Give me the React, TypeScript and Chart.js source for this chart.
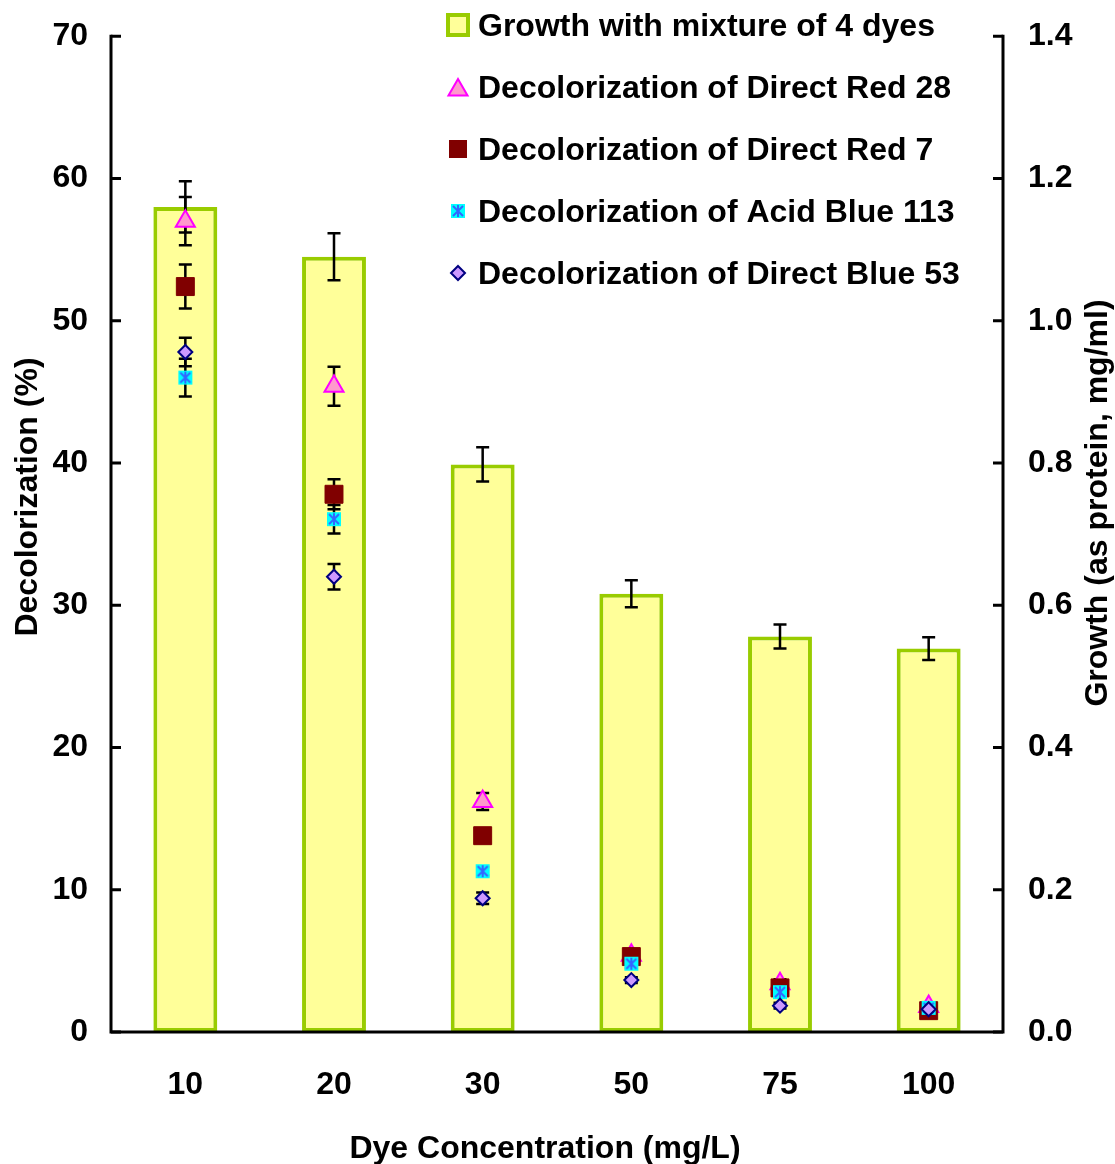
import { useEffect, useRef } from "react";
import { Chart, registerables } from "chart.js";

Chart.register(...registerables);

// Dye concentrations (mg/L)
const concentrations = ["10", "20", "30", "50", "75", "100"];

// Growth with the 4-dye mixture (as protein, mg/ml) and its standard error
const growth = [1.16, 1.09, 0.798, 0.616, 0.556, 0.539];
const growthErr = [0.036, 0.033, 0.024, 0.019, 0.017, 0.016];

// Decolorization (%) of each dye and its standard error
const directRed28 = [57.0, 45.4, 16.2, 5.4, 3.4, 1.8];
const directRed28Err = [1.7, 1.37, 0.6, 0.3, 0.3, 0.2];
const directRed7 = [52.4, 37.8, 13.8, 5.3, 3.1, 1.5];
const directRed7Err = [1.55, 1.05, 0.4, 0.3, 0.2, 0.2];
const acidBlue113 = [46.0, 36.05, 11.3, 4.8, 2.8, 1.7];
const acidBlue113Err = [1.33, 1.0, 0.3, 0.3, 0.2, 0.2];
const directBlue53 = [47.8, 32.0, 9.4, 3.65, 1.85, 1.6];
const directBlue53Err = [1.0, 0.9, 0.4, 0.2, 0.2, 0.2];

// Axis ranges and tick steps
const decolorMax = 70;
const decolorStep = 10;
const growthMax = 1.4;
const growthStep = 0.2;

const seriesLabels = [
  "Growth with mixture of 4 dyes",
  "Decolorization of Direct Red 28",
  "Decolorization of Direct Red 7",
  "Decolorization of Acid Blue 113",
  "Decolorization of Direct Blue 53",
];

const xTitle = "Dye Concentration (mg/L)";
const yTitle = "Decolorization (%)";
const y1Title = "Growth (as protein, mg/ml)";

const FONT = "'Liberation Sans', Arial, Helvetica, sans-serif";

function makeStarMarker(): HTMLCanvasElement {
  const c = document.createElement("canvas");
  c.width = 16;
  c.height = 16;
  const g = c.getContext("2d")!;
  g.fillStyle = "#00FFFF";
  g.fillRect(1, 1, 14, 14);
  g.strokeStyle = "#3366FF";
  g.lineWidth = 2;
  g.beginPath();
  g.moveTo(3, 3);
  g.lineTo(13, 13);
  g.moveTo(13, 3);
  g.lineTo(3, 13);
  g.moveTo(8, 2);
  g.lineTo(8, 14);
  g.stroke();
  return c;
}

export default function App() {
  const canvasRef = useRef<HTMLCanvasElement | null>(null);

  useEffect(() => {
    document.body.style.margin = "0";
    const canvas = canvasRef.current;
    if (!canvas) return;

    const starMarker = makeStarMarker();

    const errorSets: Record<number, { err: number[]; axis: string }> = {
      0: { err: growthErr, axis: "y1" },
      1: { err: directRed28Err, axis: "y" },
      2: { err: directRed7Err, axis: "y" },
      3: { err: acidBlue113Err, axis: "y" },
      4: { err: directBlue53Err, axis: "y" },
    };

    const errorBars = {
      id: "errorBars",
      afterDatasetDraw(chart: any, args: any) {
        if (args.index !== 0) return;
        const ctx = chart.ctx;
        ctx.save();
        ctx.strokeStyle = "#000";
        ctx.lineWidth = 2.5;
        Object.keys(errorSets).forEach((k) => {
          const i = Number(k);
          const set = errorSets[i];
          const meta = chart.getDatasetMeta(i);
          const scale = chart.scales[set.axis];
          const values = chart.data.datasets[i].data as number[];
          meta.data.forEach((el: any, j: number) => {
            const v = values[j];
            const e = set.err[j];
            const top = scale.getPixelForValue(v + e);
            const bot = scale.getPixelForValue(Math.max(0, v - e));
            const x = el.x;
            ctx.beginPath();
            ctx.moveTo(x, top);
            ctx.lineTo(x, bot);
            ctx.moveTo(x - 6.5, top);
            ctx.lineTo(x + 6.5, top);
            ctx.moveTo(x - 6.5, bot);
            ctx.lineTo(x + 6.5, bot);
            ctx.stroke();
          });
        });
        ctx.restore();
      },
    };

    const frame = {
      id: "frame",
      afterDraw(chart: any) {
        const ctx = chart.ctx;
        const ca = chart.chartArea;
        const ys = chart.scales.y;
        ctx.save();
        ctx.strokeStyle = "#000";
        ctx.lineWidth = 3;
        ctx.lineCap = "square";
        ctx.beginPath();
        ctx.moveTo(ca.left, ca.top);
        ctx.lineTo(ca.left, ca.bottom);
        ctx.lineTo(ca.right, ca.bottom);
        ctx.lineTo(ca.right, ca.top);
        ctx.stroke();
        ctx.lineCap = "butt";
        ctx.beginPath();
        for (let v = 0; v <= decolorMax; v += decolorStep) {
          const y = ys.getPixelForValue(v);
          ctx.moveTo(ca.left, y);
          ctx.lineTo(ca.left + 10, y);
          ctx.moveTo(ca.right, y);
          ctx.lineTo(ca.right - 10, y);
        }
        ctx.stroke();

        // axis titles
        ctx.fillStyle = "#000";
        ctx.font = `bold 32px ${FONT}`;
        ctx.textAlign = "center";
        ctx.textBaseline = "alphabetic";
        ctx.fillText(xTitle, 545, 1158);

        ctx.save();
        ctx.translate(37, 497);
        ctx.rotate(-Math.PI / 2);
        ctx.fillText(yTitle, 0, 0);
        ctx.restore();

        ctx.save();
        ctx.translate(1107, 503);
        ctx.rotate(-Math.PI / 2);
        ctx.fillText(y1Title, 0, 0);
        ctx.restore();

        // legend
        const lx = 458;
        const tx = 478;
        const rows = [25, 87, 149, 211, 273];
        ctx.textAlign = "left";
        seriesLabels.forEach((label, i) => {
          const cy = rows[i];
          ctx.fillStyle = "#000";
          ctx.fillText(label, tx, cy + 11);
          if (i === 0) {
            ctx.fillStyle = "#99CC00";
            ctx.fillRect(lx - 12, cy - 12, 24, 24);
            ctx.fillStyle = "#FFFF99";
            ctx.fillRect(lx - 8, cy - 8, 16, 16);
          } else if (i === 1) {
            const r = 11;
            ctx.beginPath();
            ctx.moveTo(lx, cy + 3 - r);
            ctx.lineTo(lx + r * 0.866, cy + 3 + r / 2);
            ctx.lineTo(lx - r * 0.866, cy + 3 + r / 2);
            ctx.closePath();
            ctx.fillStyle = "#FF99CC";
            ctx.fill();
            ctx.strokeStyle = "#FF00FF";
            ctx.lineWidth = 2;
            ctx.stroke();
          } else if (i === 2) {
            ctx.fillStyle = "#800000";
            ctx.fillRect(lx - 9, cy - 9, 18, 18);
          } else if (i === 3) {
            ctx.drawImage(starMarker, lx - 8, cy - 8);
          } else {
            const r = 7;
            ctx.beginPath();
            ctx.moveTo(lx, cy - r);
            ctx.lineTo(lx + r, cy);
            ctx.lineTo(lx, cy + r);
            ctx.lineTo(lx - r, cy);
            ctx.closePath();
            ctx.fillStyle = "#CC99FF";
            ctx.fill();
            ctx.strokeStyle = "#000080";
            ctx.lineWidth = 2;
            ctx.stroke();
          }
        });
        ctx.restore();
      },
    };

    const pointSet = (
      label: string,
      data: number[],
      order: number,
      style: any,
      radius: number,
      bg: string,
      border: string,
      bw: number
    ) => ({
      type: "line" as const,
      label,
      data,
      yAxisID: "y",
      showLine: false,
      order,
      pointStyle: style,
      pointRadius: radius,
      pointHoverRadius: radius,
      pointBackgroundColor: bg,
      pointBorderColor: border,
      pointBorderWidth: bw,
    });

    const tickFont = { family: FONT, size: 32, weight: "bold" as const };

    const chart = new Chart(canvas, {
      type: "bar",
      data: {
        labels: concentrations,
        datasets: [
          {
            type: "bar",
            label: seriesLabels[0],
            data: growth,
            yAxisID: "y1",
            order: 10,
            backgroundColor: "#FFFF99",
            borderColor: "#99CC00",
            borderWidth: 4,
            borderSkipped: false,
            categoryPercentage: 1,
            barPercentage: 0.43,
          } as any,
          pointSet(seriesLabels[1], directRed28, 4, "triangle", 11, "#FF99CC", "#FF00FF", 2),
          pointSet(seriesLabels[2], directRed7, 3, "rect", 12.7, "#800000", "#800000", 1),
          pointSet(seriesLabels[3], acidBlue113, 2, starMarker, 8, "#00FFFF", "#3366FF", 1),
          pointSet(seriesLabels[4], directBlue53, 1, "rectRot", 7, "#CC99FF", "#000080", 2),
        ],
      },
      options: {
        responsive: false,
        animation: false,
        devicePixelRatio: 1,
        layout: { padding: { top: 25, left: 0, right: 0, bottom: 0 } },
        plugins: {
          legend: { display: false },
          tooltip: { enabled: false },
        },
        scales: {
          x: {
            grid: { display: false },
            border: { display: false },
            ticks: { font: tickFont, color: "#000", padding: 26, maxRotation: 0 },
            afterFit(scale: any) {
              scale.height = 132;
            },
          },
          y: {
            position: "left",
            min: 0,
            max: decolorMax,
            grid: { display: false },
            border: { display: false },
            ticks: { stepSize: decolorStep, font: tickFont, color: "#000", padding: 15 },
            afterFit(scale: any) {
              scale.width = 111;
            },
          },
          y1: {
            position: "right",
            min: 0,
            max: growthMax,
            grid: { display: false },
            border: { display: false },
            ticks: {
              stepSize: growthStep,
              font: tickFont,
              color: "#000",
              padding: 17,
              callback: (v: any) => Number(v).toFixed(1),
            },
            afterFit(scale: any) {
              scale.width = 112;
            },
          },
        },
      },
      plugins: [errorBars, frame],
    });

    return () => chart.destroy();
  }, []);

  return (
    <canvas
      ref={canvasRef}
      width={1115}
      height={1164}
      style={{ display: "block", width: 1115, height: 1164 }}
    />
  );
}
